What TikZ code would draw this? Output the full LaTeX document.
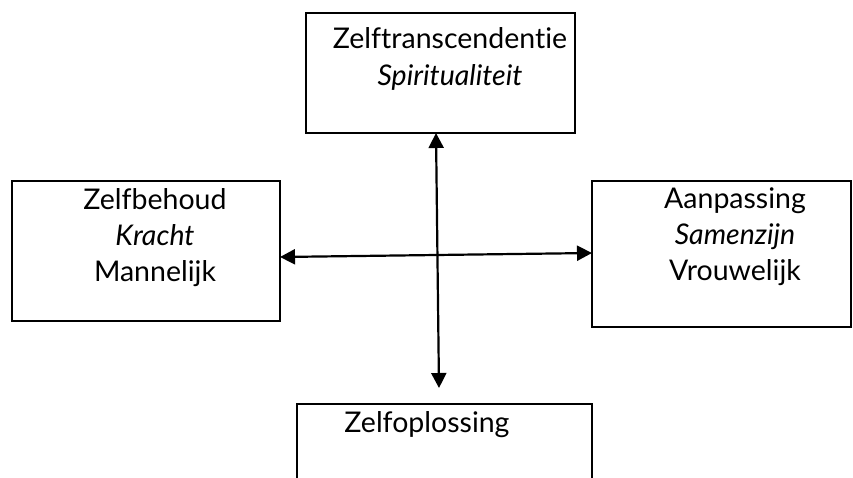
\documentclass[tikz,border=0pt]{standalone}
\usepackage{fontspec}
\setmainfont[Ligatures={NoCommon,NoContextual,NoRare},Contextuals=NoAlternate]{Lato}
\usetikzlibrary{arrows.meta}
\begin{document}
\begin{tikzpicture}[x=1pt,y=-1pt,
  box/.style={draw=black,line width=2.2pt},
  lbl/.style={anchor=base,inner sep=0pt,font=\fontsize{28.5}{34}\selectfont},
  conn/.style={line width=2.2pt,{Triangle[length=15pt,width=15pt]}-{Triangle[length=15pt,width=15pt]}}]
\useasboundingbox (0,0) rectangle (853,477);
\clip (0,0) rectangle (853,477);
% boxes
\draw[box] (306,13) rectangle (575,133);
\draw[box] (12,181) rectangle (280,321);
\draw[box] (592,181) rectangle (851,327);
\draw[box] (297,490) -- (297,404) -- (592,404) -- (592,490);
% texts
\node[lbl] (t1) at (450,48) {Zelft\kern0pt ranscendent\kern0pt ie};
\node[lbl] (t2) at (450,85) {\itshape Spiritualiteit};
\node[lbl] (l1) at (155,209) {Zelfbehoud};
\node[lbl] (l2) at (155,245) {\itshape Kracht};
\node[lbl] (l3) at (155,281) {Mannelijk};
\node[lbl] (r1) at (735,208) {Aanpassing};
\node[lbl] (r2) at (735,244) {\itshape Samenzijn};
\node[lbl] (r3) at (735,280) {Vrouwelijk};
\node[lbl] (b1) at (427,432) {Zelfoplossing};
% arrows
\coordinate (vt) at (436,133);
\coordinate (vb) at (439,388);
\coordinate (hl) at (280,257);
\coordinate (hr) at (592,253);
\draw[conn] (vt) -- (vb);
\draw[conn] (hl) -- (hr);
\end{tikzpicture}
\end{document}
